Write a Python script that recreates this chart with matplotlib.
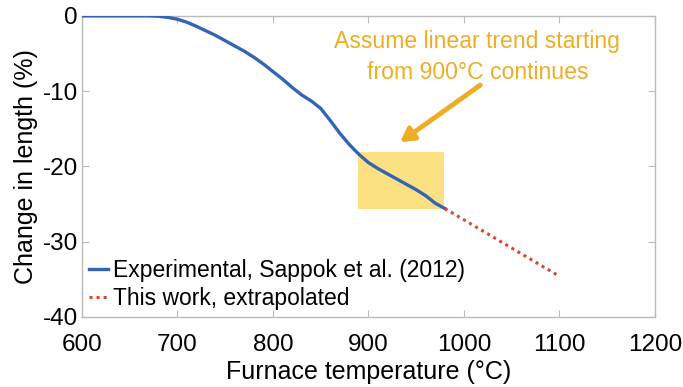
import matplotlib
matplotlib.use("Agg")
import matplotlib.pyplot as plt
from matplotlib.patches import Rectangle

plt.rcParams['font.family'] = ['Liberation Sans', 'DejaVu Sans']
plt.rcParams['axes.unicode_minus'] = False

# Measured shrinkage curve (Sappok et al. 2012)
temp_exp = [600, 650, 670, 680, 690, 700, 710, 720, 730, 740, 750, 760, 770,
            780, 790, 800, 810, 820, 830, 840, 850, 860, 870, 880, 890, 900,
            910, 920, 930, 940, 950, 960, 970, 980]
change_exp = [0, 0, 0, -0.05, -0.2, -0.45, -0.85, -1.4, -2.0, -2.6, -3.3, -4.0,
              -4.7, -5.5, -6.4, -7.4, -8.4, -9.5, -10.5, -11.3, -12.3, -13.9,
              -15.6, -17.1, -18.4, -19.5, -20.3, -21.0, -21.7, -22.4, -23.1,
              -23.9, -24.9, -25.6]

# Linear extrapolation
temp_ext = [980, 1100]
change_ext = [-25.6, -34.6]

# highlighted region (x0, x1, y0, y1)
box_x = [889, 979]
box_y = [-25.7, -18.1]

blue = '#3464B4'
red = '#D9482A'
amber = '#EEAD25'

fig = plt.figure(figsize=(6.83, 3.87), dpi=100)
ax = fig.add_axes([0.120, 0.181, 0.839, 0.778])

ax.add_patch(Rectangle((box_x[0], box_y[0]), box_x[1] - box_x[0], box_y[1] - box_y[0],
                       facecolor='#FBE182', edgecolor='none', zorder=1))

ax.plot(temp_exp, change_exp, color=blue, lw=2.4, zorder=3,
        label='Experimental, Sappok et al. (2012)')
ax.plot(temp_ext, change_ext, color=red, lw=2.2, ls=(0, (1, 1.3)), zorder=3,
        label='This work, extrapolated')

ax.annotate('', xy=(933, -16.8), xytext=(1017, -9.2),
            arrowprops=dict(arrowstyle='-|>,head_length=0.8,head_width=0.45',
                            color=amber, lw=3.5, shrinkA=0, shrinkB=0))
ax.text(1014, -5.5, 'Assume linear trend starting\nfrom 900°C continues',
        color=amber, fontsize=16.6, ha='center', va='center', linespacing=1.45)

ax.set_xlim(600, 1200)
ax.set_ylim(-40, 0)
ax.set_xticks([600, 700, 800, 900, 1000, 1100, 1200])
ax.set_yticks([-40, -30, -20, -10, 0])
ax.tick_params(direction='in', top=True, right=True, labelsize=17.5,
               length=5, color='#BBBBBB')
ax.tick_params(axis='x', pad=12)
ax.tick_params(axis='y', pad=3)
for s in ax.spines.values():
    s.set_color('#BBBBBB')
    s.set_linewidth(1.0)

ax.set_xlabel('Furnace temperature (°C)', fontsize=18, labelpad=3)
ax.set_ylabel('Change in length (%)', fontsize=18, labelpad=3)

ax.legend(loc='lower left', frameon=False, fontsize=16.5, handlelength=0.85,
          handletextpad=0.2, borderaxespad=0, borderpad=0.3, labelspacing=0.2,
          bbox_to_anchor=(0.0, 0.0))

fig.savefig('out.png', dpi=100)
